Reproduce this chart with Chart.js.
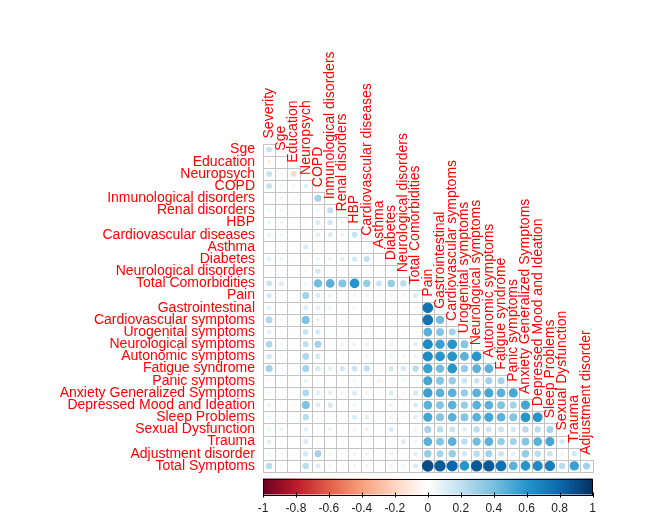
<!DOCTYPE html>
<html>
<head>
<meta charset="utf-8">
<script src="https://cdn.jsdelivr.net/npm/chart.js@4"></script>
<style>
  html, body { margin: 0; padding: 0; background: #ffffff; }
  #wrap { width: 645px; height: 513px; }
</style>
</head>
<body>
<div id="wrap"><canvas id="c" width="645" height="513"></canvas></div>
<script>
const colLabels = ['Severity','Sge','Education','Neuropsych','COPD','Inmunological disorders','Renal disorders','HBP','Cardiovascular diseases','Asthma','Diabetes','Neurological disorders','Total Comorbidities','Pain','Gastrointestinal','Cardiovascular symptoms','Urogenital symptoms','Neurological symptoms','Autonomic symptoms','Fatigue syndrome','Panic symptoms','Anxiety Generalized Symptoms','Depressed Mood and Ideation','Sleep Problems','Sexual Dysfunction','Trauma','Adjustment disorder'];
const rowLabels = ['Sge','Education','Neuropsych','COPD','Inmunological disorders','Renal disorders','HBP','Cardiovascular diseases','Asthma','Diabetes','Neurological disorders','Total Comorbidities','Pain','Gastrointestinal','Cardiovascular symptoms','Urogenital symptoms','Neurological symptoms','Autonomic symptoms','Fatigue syndrome','Panic symptoms','Anxiety Generalized Symptoms','Depressed Mood and Ideation','Sleep Problems','Sexual Dysfunction','Trauma','Adjustment disorder','Total Symptoms'];

// lower-triangular correlations: row i holds columns 0..i
const corrLower = [
  [0.18],
  [-0.08, 0.03],
  [0.18, 0.04, -0.18],
  [0.18, 0.06, 0.05, 0.1],
  [0.04, 0.06, 0.04, 0.0, 0.28],
  [0.06, 0.06, 0.03, 0.0, 0.06, 0.2],
  [0.07, 0.06, 0.03, 0.03, 0.12, 0.15, 0.06],
  [0.07, 0.05, 0.0, 0.03, 0.1, 0.12, 0.06, 0.18],
  [0.03, 0.03, 0.0, 0.12, 0.03, 0.03, 0.03, 0.03, 0.04],
  [0.1, 0.06, 0.03, 0.04, 0.07, 0.07, 0.1, 0.14, 0.2, 0.03],
  [0.03, 0.03, 0.0, 0.04, 0.14, 0.03, 0.03, 0.03, 0.03, 0.03, 0.03],
  [0.17, 0.12, 0.0, 0.06, 0.42, 0.47, 0.37, 0.6, 0.32, 0.17, 0.32, 0.22],
  [0.14, 0.03, 0.0, 0.28, 0.12, 0.07, 0.0, 0.05, 0.06, 0.05, 0.05, 0.05, 0.12],
  [0.1, 0.03, 0.03, 0.12, 0.1, 0.06, 0.0, 0.04, 0.03, 0.03, 0.04, 0.03, 0.05, 0.75],
  [0.25, 0.04, 0.03, 0.38, 0.07, 0.03, 0.03, 0.03, 0.03, 0.0, 0.03, 0.03, 0.04, 0.75, 0.42],
  [0.1, 0.03, 0.03, 0.17, 0.14, 0.03, 0.0, 0.03, 0.03, 0.0, 0.03, 0.03, 0.04, 0.47, 0.37, 0.28],
  [0.25, 0.05, 0.04, 0.2, 0.28, 0.03, 0.06, 0.07, 0.07, 0.03, 0.07, 0.04, 0.1, 0.65, 0.55, 0.6, 0.37],
  [0.14, 0.03, 0.0, 0.25, 0.14, 0.0, 0.03, 0.03, 0.05, 0.0, 0.06, 0.06, 0.07, 0.65, 0.6, 0.6, 0.47, 0.6],
  [0.28, 0.03, 0.03, 0.28, 0.14, 0.1, 0.14, 0.17, 0.2, 0.03, 0.14, 0.14, 0.22, 0.55, 0.42, 0.6, 0.32, 0.47, 0.47],
  [0.04, 0.0, 0.03, 0.07, 0.03, 0.03, 0.0, 0.06, 0.0, -0.07, 0.03, 0.04, 0.03, 0.52, 0.37, 0.32, 0.17, 0.17, 0.28, 0.28],
  [0.06, 0.03, 0.0, 0.25, 0.1, 0.1, 0.06, 0.12, 0.06, 0.03, 0.12, 0.06, 0.14, 0.55, 0.47, 0.47, 0.32, 0.47, 0.52, 0.47, 0.52],
  [0.07, 0.03, -0.05, 0.38, 0.12, 0.14, 0.0, 0.06, 0.04, 0.0, 0.06, 0.04, 0.12, 0.47, 0.37, 0.47, 0.32, 0.47, 0.47, 0.37, 0.28, 0.52],
  [0.06, 0.03, 0.0, 0.22, 0.03, 0.0, 0.0, 0.12, 0.1, 0.03, 0.06, 0.04, 0.1, 0.52, 0.37, 0.47, 0.37, 0.47, 0.52, 0.47, 0.37, 0.6, 0.6],
  [0.07, 0.07, 0.0, 0.1, 0.03, 0.07, 0.03, 0.05, 0.07, 0.0, 0.12, 0.0, 0.06, 0.28, 0.22, 0.17, 0.1, 0.22, 0.17, 0.17, 0.14, 0.22, 0.22, 0.28],
  [0.1, 0.03, 0.0, 0.12, 0.03, 0.0, 0.03, 0.0, 0.04, 0.0, 0.03, 0.12, 0.05, 0.47, 0.37, 0.47, 0.22, 0.42, 0.47, 0.32, 0.28, 0.37, 0.47, 0.52, 0.14],
  [0.06, 0.04, 0.0, 0.14, 0.28, 0.06, 0.03, 0.06, 0.06, 0.03, 0.06, 0.03, 0.1, 0.32, 0.28, 0.32, 0.14, 0.22, 0.28, 0.17, 0.1, 0.32, 0.22, 0.17, 0.06, 0.14],
  [0.22, 0.03, 0.0, 0.22, 0.12, 0.05, 0.03, 0.06, 0.06, 0.03, 0.06, 0.06, 0.12, 0.9, 0.85, 0.8, 0.6, 0.85, 0.85, 0.75, 0.47, 0.6, 0.65, 0.7, 0.22, 0.55, 0.28]
];

const colorbarTicks = [-1, -0.8, -0.6, -0.4, -0.2, 0, 0.2, 0.4, 0.6, 0.8, 1];
const paletteStops = ['#6A0020','#BC1A2A','#E0604A','#F7A07C','#FDD5C2','#FFFFFF','#C0E0F0','#78C0E0','#2595CB','#0C68AC','#053061'];

function hexToRgb(h) {
  return [parseInt(h.slice(1,3),16), parseInt(h.slice(3,5),16), parseInt(h.slice(5,7),16)];
}
function corrColor(v) {
  const t = (Math.max(-1, Math.min(1, v)) + 1) / 2 * (paletteStops.length - 1);
  const i = Math.min(paletteStops.length - 2, Math.floor(t));
  const f = t - i;
  const a = hexToRgb(paletteStops[i]), b = hexToRgb(paletteStops[i+1]);
  const c = a.map((x, k) => Math.round(x + (b[k] - x) * f));
  return 'rgb(' + c.join(',') + ')';
}

const points = [];
corrLower.forEach((row, i) => row.forEach((v, j) => points.push({x: j, y: i, v: v})));

const FONT = '"Liberation Sans", Arial, sans-serif';

function cellSize(chart) {
  const xs = chart.scales.x;
  return Math.abs(xs.getPixelForValue(1) - xs.getPixelForValue(0));
}

const gridPlugin = {
  id: 'corrGrid',
  beforeDatasetsDraw(chart) {
    const ctx = chart.ctx, xs = chart.scales.x, ys = chart.scales.y;
    ctx.save();
    ctx.strokeStyle = '#c4c4c4';
    ctx.lineWidth = 1;
    corrLower.forEach((row, i) => row.forEach((v, j) => {
      const x0 = Math.round(xs.getPixelForValue(j - 0.5)) + 0.5;
      const x1 = Math.round(xs.getPixelForValue(j + 0.5)) + 0.5;
      const y0 = Math.round(ys.getPixelForValue(i - 0.5)) + 0.5;
      const y1 = Math.round(ys.getPixelForValue(i + 0.5)) + 0.5;
      ctx.strokeRect(x0, y0, x1 - x0, y1 - y0);
    }));
    ctx.restore();
  },
  afterDraw(chart) {
    const ctx = chart.ctx, xs = chart.scales.x, ys = chart.scales.y, cb = chart.scales.cbar;
    const cs = cellSize(chart);
    // column labels, rotated, above the diagonal cells
    ctx.save();
    ctx.font = '14px ' + FONT;
    ctx.fillStyle = '#ff0000';
    ctx.textAlign = 'left';
    ctx.textBaseline = 'middle';
    colLabels.forEach((lab, j) => {
      const x = xs.getPixelForValue(j);
      const y = ys.getPixelForValue(j) - cs / 2 - 5;
      ctx.save();
      ctx.translate(x, y);
      ctx.rotate(-Math.PI / 2);
      ctx.fillText(lab, 0, 0);
      ctx.restore();
    });
    ctx.restore();
    // colour bar
    const left = cb.getPixelForValue(-1), right = cb.getPixelForValue(1);
    const top = chart.chartArea.bottom + 6.5, h = 16;
    const g = ctx.createLinearGradient(left, 0, right, 0);
    paletteStops.forEach((c, k) => g.addColorStop(k / (paletteStops.length - 1), c));
    ctx.save();
    ctx.fillStyle = g;
    ctx.fillRect(left, top, right - left, h);
    ctx.strokeStyle = '#000';
    ctx.lineWidth = 1;
    ctx.strokeRect(Math.round(left) + 0.5, Math.round(top) + 0.5, Math.round(right - left) - 1, h);
    ctx.beginPath();
    colorbarTicks.forEach(v => {
      const x = Math.round(cb.getPixelForValue(v)) + 0.5;
      ctx.moveTo(x, top + h - 2);
      ctx.lineTo(x, top + h + 3);
    });
    ctx.stroke();
    ctx.restore();
  }
};

new Chart(document.getElementById('c'), {
  type: 'scatter',
  data: {
    datasets: [{
      data: points,
      pointRadius: ctx => {
        const p = ctx.raw;
        return p ? 0.45 * Math.sqrt(Math.abs(p.v)) * cellSize(ctx.chart) : 0;
      },
      pointBackgroundColor: ctx => ctx.raw ? corrColor(ctx.raw.v) : '#fff',
      pointBorderColor: ctx => ctx.raw ? corrColor(ctx.raw.v) : '#fff',
      pointBorderWidth: ctx => (ctx.raw && ctx.raw.v !== 0) ? 1.2 : 0,
      pointHoverRadius: 0
    }]
  },
  options: {
    responsive: false,
    animation: false,
    events: [],
    layout: { padding: { top: 143.5, right: 52.4, left: 0, bottom: 0 } },
    plugins: { legend: { display: false }, tooltip: { enabled: false } },
    scales: {
      x: { type: 'linear', min: -0.5, max: 26.5, display: false },
      y: {
        type: 'linear', min: -0.5, max: 26.5, reverse: true, position: 'left',
        afterBuildTicks: s => { s.ticks = rowLabels.map((_, i) => ({ value: i })); },
        afterFit: s => { s.width = 263; },
        grid: { display: false, drawTicks: false },
        border: { display: false },
        ticks: {
          autoSkip: false, padding: 8, color: '#ff0000',
          font: { size: 14, family: FONT },
          callback: v => rowLabels[v]
        }
      },
      cbar: {
        type: 'linear', axis: 'x', position: 'bottom', min: -1, max: 1,
        afterBuildTicks: s => { s.ticks = colorbarTicks.map(v => ({ value: v })); },
        afterFit: s => { s.height = 41; },
        grid: { display: false, drawTicks: false },
        border: { display: false },
        ticks: {
          autoSkip: false, padding: 29, color: '#222',
          maxRotation: 0,
          font: { size: 12, family: FONT },
          callback: v => String(v)
        }
      }
    }
  },
  plugins: [gridPlugin]
});
</script>
</body>
</html>
